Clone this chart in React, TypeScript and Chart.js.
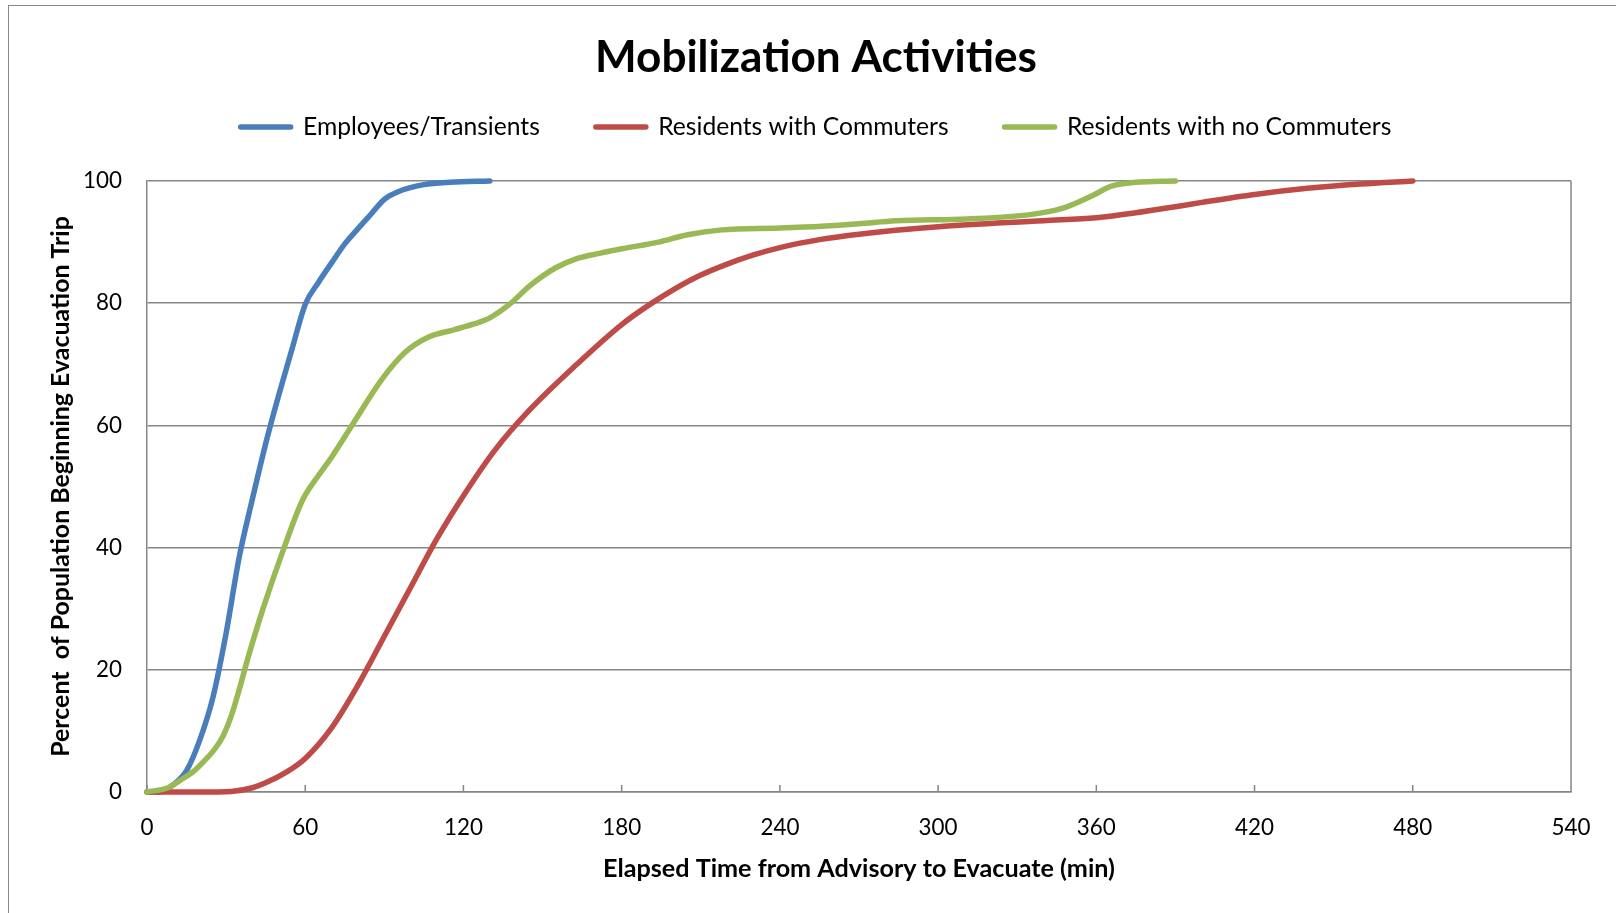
import React, { useEffect, useRef } from 'react';
import { Chart, registerables } from 'chart.js';

Chart.register(...registerables);

const chartTitle = 'Mobilization Activities';
const xAxisTitle = 'Elapsed Time from Advisory to Evacuate (min)';
const yAxisTitle = 'Percent  of Population Beginning Evacuation Trip';
const seriesNames = ['Employees/Transients', 'Residents with Commuters', 'Residents with no Commuters'];
const seriesColors = ['#4A7EBB', '#BE4B48', '#98B954'];

const xMin = 0;
const xMax = 540;
const xStep = 60;
const yMin = 0;
const yMax = 100;
const yStep = 20;

// Employees/Transients
const empTime = [0, 5, 10, 15, 20, 25, 30, 35, 40, 45, 50, 55, 60, 65, 70, 75, 80, 85, 90, 95, 105, 115, 130];
const empPct = [0, 0, 1.2, 3.5, 8.5, 15.5, 26, 38.5, 48, 57, 65, 72.5, 79.8, 83.4, 86.6, 89.7, 92.2, 94.6, 97, 98.2, 99.4, 99.8, 100];

// Residents with Commuters
const comTime = [0, 20, 32, 40, 45, 53, 60, 70, 80, 90, 100, 110, 120, 132, 145, 163, 180, 190, 200, 210, 220, 230, 240, 255, 270, 300, 340, 360, 375, 390, 400, 420, 440, 460, 480];
const comPct = [0, 0, 0.1, 0.7, 1.5, 3.3, 5.5, 10.5, 17.5, 25.5, 33.5, 41.5, 48.5, 56, 62.5, 70, 76.5, 79.6, 82.3, 84.6, 86.4, 87.9, 89.1, 90.4, 91.3, 92.5, 93.5, 94, 94.8, 95.8, 96.5, 97.8, 98.8, 99.5, 100];

// Residents with no Commuters
const noComTime = [0, 8, 13, 18, 22, 26, 29, 32, 35, 38, 44, 52, 59, 65, 70, 78, 89, 98, 107, 116, 124, 130, 138, 145, 155, 163, 172, 180, 194, 205, 218, 240, 256, 270, 284, 311, 335, 347, 358, 366, 375, 390];
const noComPct = [0, 0.7, 2, 3.5, 5.2, 7.2, 9.3, 12.5, 16.8, 21.5, 30, 40, 47.8, 51.8, 54.8, 60.2, 67.5, 72, 74.5, 75.6, 76.6, 77.6, 80, 82.8, 85.8, 87.3, 88.2, 88.9, 90, 91.2, 92, 92.3, 92.6, 93, 93.5, 93.8, 94.5, 95.5, 97.5, 99.2, 99.8, 100];

const FAMILY = "Lato, 'Open Sans', sans-serif";
const GRAY = '#868686';

function fitSize(texts: string[], weight: string, targets: number[]): number {
  const ctx = document.createElement('canvas').getContext('2d') as CanvasRenderingContext2D;
  ctx.font = `${weight} 100px ${FAMILY}`;
  let sum = 0;
  texts.forEach((t, i) => {
    sum += (100 * targets[i]) / ctx.measureText(t).width;
  });
  return sum / texts.length;
}

const toPoints = (xs: number[], ys: number[]) => xs.map((x, i) => ({ x, y: ys[i] }));

const outerBorder = {
  id: 'outerBorder',
  beforeDraw(chart: any) {
    const { ctx } = chart;
    ctx.save();
    ctx.strokeStyle = '#888888';
    ctx.lineWidth = 1;
    ctx.strokeRect(8.5, 5.5, chart.width + 50, chart.height + 50);
    ctx.restore();
  },
};

const plotFrame = {
  id: 'plotFrame',
  beforeDatasetsDraw(chart: any) {
    const { ctx, chartArea } = chart;
    const xs = chart.scales.x;
    ctx.save();
    ctx.strokeStyle = GRAY;
    ctx.lineWidth = 1.5;
    ctx.beginPath();
    ctx.moveTo(chartArea.right, chartArea.top);
    ctx.lineTo(chartArea.right, chartArea.bottom);
    xs.ticks.forEach((t: any) => {
      const px = xs.getPixelForValue(t.value);
      ctx.moveTo(px, chartArea.bottom);
      ctx.lineTo(px, chartArea.bottom - 7);
    });
    ctx.stroke();
    ctx.restore();
  },
};

export default function App() {
  const canvasRef = useRef<HTMLCanvasElement | null>(null);

  useEffect(() => {
    if (!canvasRef.current) return;

    const titleSize = fitSize([chartTitle], 'bold', [442]);
    const legendSize = fitSize(seriesNames, 'normal', [237, 290, 325]);
    const tickSize = fitSize(['100', '480'], 'normal', [39, 39]);
    const xTitleSize = fitSize([xAxisTitle], 'bold', [512]);
    const yTitleSize = fitSize([yAxisTitle], 'bold', [541]);

    const plotLeft = 147;
    const plotRight = 1571;
    const plotTop = 181;
    const plotBottom = 792;
    const W = 1616;
    const H = 913;
    const padLeft = 61;

    const legendPad = 56;
    const legendTop = 127 - legendPad - legendSize / 2;
    const legendBottom = legendTop + legendSize + legendPad + 10;
    const lhTitle = titleSize * 1.2;
    const titleBoxH = plotTop - legendBottom;
    const titlePadTop = 58 - legendBottom - lhTitle / 2;
    const titlePadBottom = titleBoxH - lhTitle - titlePadTop;

    const lhTick = tickSize * 1.2;
    const lhX = xTitleSize * 1.2;
    const lhY = yTitleSize * 1.2;

    const datasets = [
      { label: seriesNames[0], data: toPoints(empTime, empPct), order: 3 },
      { label: seriesNames[1], data: toPoints(comTime, comPct), order: 2 },
      { label: seriesNames[2], data: toPoints(noComTime, noComPct), order: 1 },
    ].map((d, i) => ({
      ...d,
      borderColor: seriesColors[i],
      backgroundColor: seriesColors[i],
      borderWidth: 5.5,
      borderCapStyle: 'round' as const,
      borderJoinStyle: 'round' as const,
      pointRadius: 0,
      cubicInterpolationMode: 'monotone' as const,
      clip: false as any,
    }));

    const chart = new Chart(canvasRef.current, {
      type: 'line',
      data: { datasets },
      plugins: [outerBorder, plotFrame],
      options: {
        animation: false,
        responsive: true,
        maintainAspectRatio: false,
        devicePixelRatio: 1,
        events: [],
        layout: {
          padding: { top: legendTop, left: padLeft, right: W - plotRight, bottom: 0 },
        },
        plugins: {
          title: {
            display: true,
            text: chartTitle,
            color: '#000',
            weight: 500,
            font: { family: FAMILY, size: titleSize, weight: 'bold' },
            padding: { top: titlePadTop, bottom: titlePadBottom },
          } as any,
          legend: {
            display: true,
            position: 'top',
            weight: 3000,
            labels: {
              color: '#000',
              font: { family: FAMILY, size: legendSize },
              boxWidth: 50,
              boxHeight: 0,
              padding: legendPad,
              sort: (a: any, b: any) => a.datasetIndex - b.datasetIndex,
            },
          } as any,
          tooltip: { enabled: false },
        },
        scales: {
          x: {
            type: 'linear',
            min: xMin,
            max: xMax,
            ticks: {
              stepSize: xStep,
              color: '#000',
              font: { family: FAMILY, size: tickSize },
              padding: 828 - plotBottom - lhTick / 2,
              maxRotation: 0,
            },
            grid: { display: false, drawTicks: false },
            border: { display: true, color: GRAY, width: 1.5 },
            title: {
              display: true,
              text: xAxisTitle,
              color: '#000',
              font: { family: FAMILY, size: xTitleSize, weight: 'bold' },
              padding: { top: 0, bottom: H - 869 - lhX / 2 },
            },
            afterFit: (s: any) => {
              s.height = H - plotBottom;
            },
          },
          y: {
            type: 'linear',
            min: yMin,
            max: yMax,
            ticks: {
              stepSize: yStep,
              color: '#000',
              font: { family: FAMILY, size: tickSize },
              padding: 25,
            },
            grid: { color: GRAY, lineWidth: 1.5, drawTicks: false },
            border: { display: true, color: GRAY, width: 1.5 },
            title: {
              display: true,
              text: yAxisTitle,
              color: '#000',
              font: { family: FAMILY, size: yTitleSize, weight: 'bold' },
              padding: { top: -lhY / 2, bottom: 0 },
            },
            afterFit: (s: any) => {
              s.width = plotLeft - padLeft;
            },
          },
        },
      },
    });

    return () => chart.destroy();
  }, []);

  return (
    <div style={{ position: 'absolute', left: 0, top: 0, width: 1616, height: 913, overflow: 'hidden', background: '#fff' }}>
      <canvas ref={canvasRef} />
    </div>
  );
}
